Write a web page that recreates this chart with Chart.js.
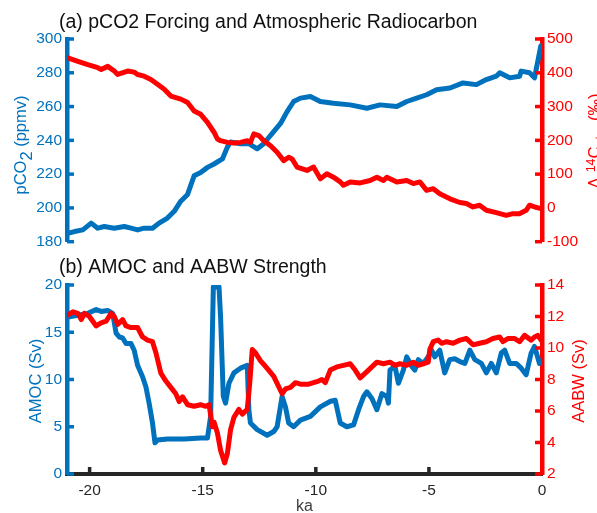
<!DOCTYPE html>
<html>
<head>
<meta charset="utf-8">
<script src="https://cdn.jsdelivr.net/npm/chart.js@4/dist/chart.umd.min.js"></script>
<style>
  html, body { margin: 0; padding: 0; background: #fff; overflow: hidden; }
  #wrap { position: relative; width: 597px; height: 513px; }
  canvas { position: absolute; left: 0; }
</style>
</head>
<body>
<div id="wrap">
  <canvas id="topChart" width="597" height="256" style="top:0"></canvas>
  <canvas id="botChart" width="597" height="257" style="top:256px"></canvas>
</div>
<script>
// (a) pCO2 forcing (ppmv) and atmospheric radiocarbon (permil), time in ka
const co2Time = [-20.96,-20.67,-20.30,-19.93,-19.64,-19.35,-18.91,-18.47,-18.17,-17.88,-17.59,-17.22,-16.93,-16.56,-16.26,-15.97,-15.67,-15.38,-15.09,-14.79,-14.50,-14.13,-13.91,-13.77,-13.33,-12.96,-12.59,-12.30,-12.00,-11.56,-11.27,-10.98,-10.68,-10.24,-9.80,-9.22,-8.48,-7.74,-7.16,-6.42,-5.98,-5.54,-5.10,-4.66,-4.07,-3.49,-2.90,-2.46,-2.02,-1.87,-1.43,-0.99,-0.92,-0.55,-0.33,-0.05];
const co2Val = [185,186,187,191,188,189,188,189,188,187,188,188,191,194,198,204,208,219,221,224,226,229,236,239,238,238,235,238,243,250,257,263,265,266,263,262,261,259,261,260,263,265,267,270,271,274,273,276,278,280,277,278,281,280,277,296];

const c14Time = [-20.96,-20.52,-20.08,-19.64,-19.49,-19.20,-18.91,-18.76,-18.32,-18.03,-17.88,-17.59,-17.29,-17.00,-16.70,-16.41,-15.97,-15.67,-15.38,-15.09,-14.79,-14.50,-14.35,-14.21,-13.91,-13.62,-13.33,-13.03,-12.89,-12.74,-12.52,-12.30,-12.00,-11.71,-11.42,-11.20,-11.05,-10.83,-10.39,-10.10,-9.80,-9.51,-9.22,-8.92,-8.78,-8.48,-8.04,-7.60,-7.30,-7.01,-6.86,-6.42,-5.98,-5.69,-5.40,-5.10,-4.81,-4.52,-4.07,-3.63,-3.34,-3.05,-2.76,-2.46,-2.02,-1.58,-1.29,-1.00,-0.70,-0.55,-0.33,-0.05];
const c14Val = [444,434,424,415,410,419,405,395,405,402,395,390,380,366,351,331,322,312,287,277,253,224,204,199,194,192,194,199,194,219,214,199,184,165,140,150,145,121,111,121,86,101,91,77,67,77,74,81,91,81,91,77,81,72,77,52,57,42,27,16,13,3,8,-7,-14,-22,-17,-17,-7,8,3,-2];

// (b) AMOC and AABW strength (Sv)
const amocTime = [-20.96,-20.52,-20.08,-19.71,-19.49,-19.20,-18.98,-18.83,-18.69,-18.54,-18.39,-18.17,-18.03,-17.88,-17.66,-17.51,-17.37,-17.22,-17.11,-17.00,-16.56,-15.82,-15.09,-14.79,-14.65,-14.53,-14.28,-14.21,-14.09,-13.99,-13.84,-13.62,-13.33,-13.03,-12.96,-12.89,-12.59,-12.15,-11.86,-11.71,-11.49,-11.34,-11.20,-10.98,-10.68,-10.24,-9.80,-9.35,-9.14,-8.92,-8.63,-8.33,-8.11,-7.89,-7.74,-7.52,-7.30,-7.08,-6.86,-6.79,-6.72,-6.50,-6.35,-6.13,-5.98,-5.76,-5.62,-5.47,-5.25,-5.03,-4.88,-4.74,-4.52,-4.30,-4.08,-3.86,-3.63,-3.41,-3.19,-2.97,-2.68,-2.46,-2.24,-2.02,-1.80,-1.65,-1.43,-1.14,-0.92,-0.70,-0.48,-0.33,-0.11];
const amocVal = [16.6,16.8,17.0,17.4,17.2,17.3,17.0,14.9,14.5,14.4,13.8,13.8,13.1,11.5,10.3,9.2,7.5,5.4,3.3,3.6,3.7,3.7,3.8,3.8,6.1,19.8,19.8,16.6,8.2,7.5,9.6,10.7,11.2,11.5,6.8,5.4,4.7,4.1,4.5,5.0,8.2,7.1,5.4,5.0,5.7,6.1,7.1,7.7,7.8,5.4,5.0,5.2,6.8,8.2,8.7,8.0,6.8,8.5,8.2,7.5,11.0,11.4,9.6,11.0,12.4,11.4,11.0,12.1,11.7,12.4,13.1,12.4,13.1,10.7,12.1,12.2,11.9,11.7,13.1,12.1,11.7,10.7,11.7,10.7,12.8,13.1,11.7,11.7,11.2,10.5,12.8,13.5,11.7];

const aabwTime = [-20.96,-20.74,-20.52,-20.37,-20.23,-20.01,-19.86,-19.71,-19.49,-19.27,-19.05,-18.91,-18.76,-18.54,-18.39,-18.17,-17.88,-17.66,-17.44,-17.22,-17.07,-16.85,-16.63,-16.41,-16.19,-16.04,-15.89,-15.67,-15.38,-15.09,-14.87,-14.72,-14.57,-14.50,-14.35,-14.21,-14.03,-13.91,-13.77,-13.62,-13.40,-13.25,-13.03,-12.92,-12.81,-12.67,-12.45,-12.15,-11.86,-11.56,-11.49,-11.34,-11.12,-10.90,-10.68,-10.32,-10.10,-9.88,-9.73,-9.58,-9.36,-9.07,-8.78,-8.48,-8.26,-8.04,-7.74,-7.52,-7.30,-7.01,-6.72,-6.50,-6.28,-5.98,-5.69,-5.47,-5.25,-5.03,-4.96,-4.81,-4.59,-4.44,-4.22,-3.93,-3.63,-3.34,-3.19,-3.05,-2.76,-2.46,-2.17,-1.87,-1.73,-1.51,-1.21,-0.99,-0.77,-0.48,-0.33,-0.19,-0.04];
const aabwVal = [12.1,12.3,12.2,11.8,12.2,12.0,11.7,11.4,11.6,11.7,12.2,12.0,11.5,11.8,11.4,11.3,11.3,10.7,10.5,10.4,9.7,8.4,7.9,7.5,7.1,6.6,6.9,6.4,6.3,6.4,6.3,6.4,5.0,5.3,4.6,3.5,2.7,3.3,4.8,5.6,6.1,5.8,6.1,7.8,9.9,9.7,9.2,8.7,8.2,7.3,7.1,7.4,7.5,7.8,7.7,7.7,7.8,7.9,8.0,7.8,8.6,8.8,8.9,9.0,8.6,8.1,8.5,8.8,9.1,9.0,9.1,8.9,9.0,8.9,9.1,8.9,9.0,9.1,9.9,10.4,10.5,10.3,10.4,10.3,10.5,10.6,10.4,10.2,10.3,10.4,10.6,10.7,10.4,10.6,10.6,10.4,10.8,10.5,10.7,10.8,10.5];

// tick labels
const xTicks = [-20, -15, -10, -5, 0];
const co2Ticks = [180, 200, 220, 240, 260, 280, 300];
const c14Ticks = [-100, 0, 100, 200, 300, 400, 500];
const amocTicks = [0, 5, 10, 15, 20];
const aabwTicks = [2, 4, 6, 8, 10, 12, 14];

const BLUE = '#0072BD';
const RED = '#FF0000';
const AXIS = '#262626';
const FONT = '"Liberation Sans", Arial, Helvetica, sans-serif';

const pts = (t, v) => t.map((x, i) => ({ x: x, y: v[i] }));

function line(data, color, axis, order) {
  return {
    data: data, yAxisID: axis, order: order,
    borderColor: color, borderWidth: 5, pointRadius: 0,
    borderJoinStyle: 'round', borderCapStyle: 'round', tension: 0
  };
}

function yAxis(pos, color, min, max, ticks, width) {
  return {
    position: pos, min: min, max: max,
    grid: { drawOnChartArea: false, drawTicks: false },
    border: { color: color, width: 4.5 },
    ticks: { color: color, padding: 5, font: { family: FONT, size: 15.5 } },
    afterBuildTicks: s => { s.ticks = ticks.map(v => ({ value: v })); },
    afterFit: s => { s.width = width; }
  };
}

// short tick marks pointing into the plot, like the original axes
const inwardTicks = {
  id: 'inwardTicks',
  afterDraw(chart) {
    const ctx = chart.ctx, a = chart.chartArea;
    ctx.save();
    ctx.lineWidth = 3.5;
    Object.values(chart.scales).forEach(s => {
      if (!s.options.display) return;
      ctx.strokeStyle = s.options.border.color;
      s.ticks.forEach(t => {
        const p = s.getPixelForValue(t.value);
        ctx.beginPath();
        if (s.position === 'left') { ctx.moveTo(a.left, p); ctx.lineTo(a.left + 7, p); }
        else if (s.position === 'right') { ctx.moveTo(a.right, p); ctx.lineTo(a.right - 7, p); }
        else { if (t.value === 0) return; ctx.moveTo(p, a.bottom); ctx.lineTo(p, a.bottom - 7); }
        ctx.stroke();
      });
    });
    ctx.restore();
  }
};

// rotated axis label, read bottom to top; parts carry size and shift for sub/superscripts
function vertLabel(ctx, x, yc, parts, color) {
  ctx.save();
  ctx.fillStyle = color;
  ctx.textBaseline = 'alphabetic';
  ctx.textAlign = 'left';
  let total = 0;
  parts.forEach(p => { ctx.font = p.s + 'px ' + FONT; p.w = ctx.measureText(p.t).width; total += p.w + (p.gap || 0); });
  ctx.translate(x, yc);
  ctx.rotate(-Math.PI / 2);
  let pos = -total / 2;
  parts.forEach(p => {
    ctx.font = p.s + 'px ' + FONT;
    ctx.fillText(p.t, pos, p.dy || 0);
    pos += p.w + (p.gap || 0);
  });
  ctx.restore();
}

function titleText(ctx, txt, x, y) {
  ctx.save();
  ctx.font = '19.5px ' + FONT;
  ctx.fillStyle = '#111';
  ctx.textBaseline = 'alphabetic';
  ctx.fillText(txt, x, y);
  ctx.restore();
}

const topLabels = {
  id: 'topLabels',
  afterDraw(chart) {
    const ctx = chart.ctx;
    titleText(ctx, '(a) pCO2 Forcing and Atmospheric Radiocarbon', 59, 28);
    vertLabel(ctx, 26, 145, [
      { t: 'pCO', s: 16.5 }, { t: '2', s: 16.5, dy: 6 }, { t: ' (ppmv)', s: 16.5 }
    ], BLUE);
    vertLabel(ctx, 600, 141, [
      { t: '\u0394', s: 16.5, gap: 5 }, { t: '14', s: 12.5, dy: -5 }, { t: 'C', s: 16.5 },
      { t: 'atm', s: 12.5, dy: 4 }, { t: ' (\u2030)', s: 16.5 }
    ], RED);
  }
};

const botLabels = {
  id: 'botLabels',
  afterDraw(chart) {
    const ctx = chart.ctx;
    titleText(ctx, '(b) AMOC and AABW Strength', 59, 17);
    vertLabel(ctx, 41, 125, [{ t: 'AMOC (Sv)', s: 16.5 }], BLUE);
    vertLabel(ctx, 584, 125, [{ t: 'AABW (Sv)', s: 16.5 }], RED);
    ctx.save();
    ctx.font = '16px ' + FONT;
    ctx.fillStyle = '#404040';
    ctx.textAlign = 'center';
    ctx.fillText('ka', (chart.chartArea.left + chart.chartArea.right) / 2, 255);
    ctx.restore();
  }
};

new Chart(document.getElementById('topChart'), {
  type: 'line',
  data: {
    datasets: [
      line(pts(c14Time, c14Val), RED, 'yR', 0),
      line(pts(co2Time, co2Val), BLUE, 'yL', 1)
    ]
  },
  options: {
    responsive: false,
    animation: false,
    layout: { autoPadding: false, padding: { top: 39, bottom: 13, left: 0, right: 0 } },
    plugins: { legend: { display: false }, tooltip: { enabled: false } },
    scales: {
      x: { type: 'linear', min: -21, max: 0, display: false },
      yL: yAxis('left', BLUE, 180, 300, co2Ticks, 67),
      yR: yAxis('right', RED, -100, 500, c14Ticks, 55)
    }
  },
  plugins: [inwardTicks, topLabels]
});

new Chart(document.getElementById('botChart'), {
  type: 'line',
  data: {
    datasets: [
      line(pts(aabwTime, aabwVal), RED, 'yR', 0),
      line(pts(amocTime, amocVal), BLUE, 'yL', 1)
    ]
  },
  options: {
    responsive: false,
    animation: false,
    layout: { autoPadding: false, padding: { top: 29, bottom: 0, left: 0, right: 0 } },
    plugins: { legend: { display: false }, tooltip: { enabled: false } },
    scales: {
      x: {
        type: 'linear', min: -21, max: 0,
        grid: { drawOnChartArea: false, drawTicks: false },
        border: { color: AXIS, width: 4 },
        ticks: { color: AXIS, padding: 7, font: { family: FONT, size: 15.5 } },
        afterBuildTicks: s => { s.ticks = xTicks.map(v => ({ value: v })); },
        afterFit: s => { s.height = 39; }
      },
      yL: yAxis('left', BLUE, 0, 20, amocTicks, 67),
      yR: yAxis('right', RED, 2, 14, aabwTicks, 55)
    }
  },
  plugins: [inwardTicks, botLabels]
});
</script>
</body>
</html>
